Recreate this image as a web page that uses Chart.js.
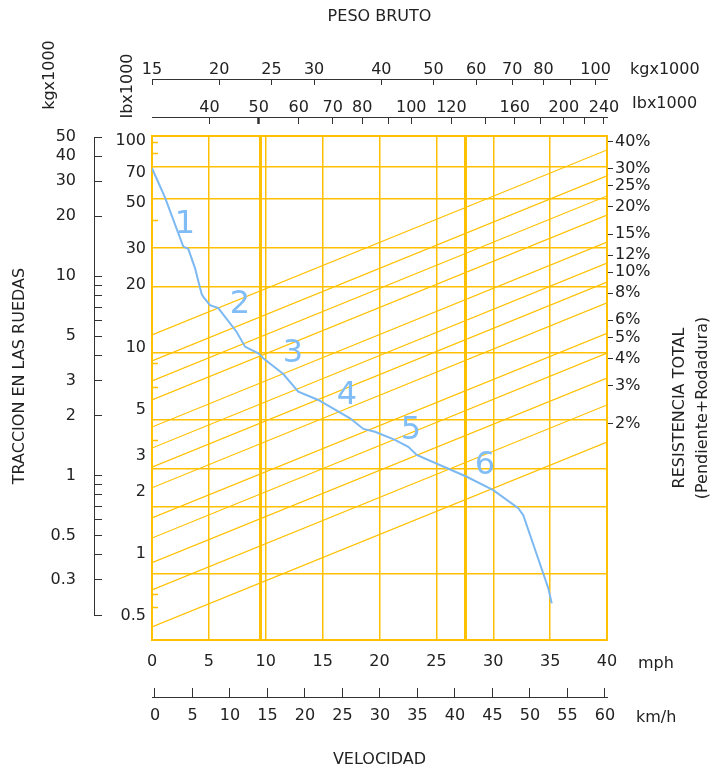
<!DOCTYPE html>
<html><head><meta charset="utf-8">
<script src="https://cdn.jsdelivr.net/npm/chart.js@4.4.1/dist/chart.umd.min.js"></script>
<style>
html,body{margin:0;padding:0;background:#fff;}
#wrap{position:relative;width:712px;height:771px;}
canvas{position:absolute;left:0;top:0;}
</style></head><body>
<div id="wrap"><canvas id="main" width="712" height="771"></canvas><canvas id="side" width="140" height="771"></canvas></div>
<script>
// ---------------- data ----------------
const speedTicksMph = [0,5,10,15,20,25,30,35,40];
const speedTicksKmh = [0,5,10,15,20,25,30,35,40,45,50,55,60];
const weightMarkerMph = [9.5,27.6];
const rimpullLabelsLb = [100,70,50,30,20,10,5,3,2,1,0.5];
const rimpullGridLb = [70,50,30,20,10,5,3,2,1];
const rimpullMinorLb = [90,80,40,9,7,4,0.8,0.7];
const rimpullLabelsKg = [50,40,30,20,10,5,3,2,1,0.5,0.3];
const rimpullMinorKg = [9,8,7,6,4,0.9,0.8,0.7,0.6,0.4,0.2];
const weightTicksKg = [15,20,25,30,40,50,60,70,80,90,100];
const weightLabelsKg = [15,20,25,30,40,50,60,70,80,100];
const weightTicksLb = [40,50,60,70,80,90,100,120,140,160,180,200,220,240];
const weightLabelsLb = [40,50,60,70,80,100,120,160,200,240];
const resistancePct = [40,30,25,20,15,12,10,8,6,5,4,3,2];
const resistanceStartLb = [12.08,9.21,7.48,6.13,4.62,3.71,3.04,2.45,1.79,1.45,1.12,0.843,0.573];
const resistanceEndLb = [83.4,63.6,51.6,42.3,31.9,25.6,21.0,16.9,12.3,10.0,7.71,5.82,3.95];
const curveMph = [0,1.14,2.75,3.19,3.78,4.22,4.37,4.51,5.10,5.83,7.43,8.18,8.47,9.35,9.78,11.54,12.86,14.62,17.41,18.58,19.60,21.36,22.53,23.27,27.67,30.0,32.2,32.64,34.84,35.14];
const curveLb = [68.9,50.8,30.4,29.7,24.3,19.8,18.5,18.0,16.5,16.0,12.5,10.7,10.5,9.98,9.47,8.04,6.69,6.13,5.06,4.53,4.40,4.04,3.76,3.45,2.75,2.39,1.98,1.84,0.858,0.733];
const gearNames = ['1','2','3','4','5','6'];
const gearMph = [2.9,7.74,12.4,17.14,22.77,29.27];
const gearLb = [38.1,16.5,9.91,6.39,4.43,3.08];

// ---------------- style ----------------
const FONT = '"DejaVu Sans", Verdana, sans-serif';
Chart.defaults.font.family = FONT;
Chart.defaults.font.size = 16;
Chart.defaults.color = '#222';
const COL = {grid:'#FFC000', frame:'#FFC000', curve:'#7CB9F3', gear:'#80BDF6', dark:'#333'};
const toTicks = arr => arr.slice().sort((a,b)=>a-b).map(v=>({value:v}));

const textPlugin = {
  id:'texts',
  afterDatasetsDraw(chart){
    const ctx = chart.ctx, sx = chart.scales.x, sy = chart.scales.y;
    ctx.save();
    ctx.font = '32px ' + FONT;
    ctx.fillStyle = COL.gear;
    ctx.textAlign = 'center'; ctx.textBaseline = 'middle';
    gearNames.forEach((g,i)=>{
      ctx.fillText(g, sx.getPixelForValue(gearMph[i]), sy.getPixelForValue(gearLb[i]));
    });
    ctx.restore();
  },
  afterDraw(chart){
    const ctx = chart.ctx;
    ctx.save();
    ctx.font = '16px ' + FONT;
    ctx.fillStyle = '#222';
    ctx.textBaseline = 'middle';
    ctx.textAlign = 'left';
    ctx.fillText('kgx1000', 630, 70);
    ctx.fillText('Ibx1000', 632, 104);
    ctx.fillText('mph', 638, 664);
    ctx.fillText('km/h', 636, 718);
    const rot = (t,x,y)=>{ctx.save();ctx.translate(x,y);ctx.rotate(-Math.PI/2);ctx.textAlign='center';ctx.fillText(t,0,0);ctx.restore();};
    rot('kgx1000', 50, 75);
    rot('Ibx1000', 128, 86);
    rot('RESISTENCIA TOTAL', 680, 408);
    rot('(Pendiente+Rodadura)', 703, 408);
    ctx.restore();
  }
};

const datasets = [{
  data: curveMph.map((x,i)=>({x, y: curveLb[i]})),
  borderColor: COL.curve, borderWidth: 2, pointRadius: 0, tension: 0
}];
resistancePct.forEach((p,i)=>{
  datasets.push({
    label: p + '%',
    data: [{x: speedTicksMph[0], y: resistanceStartLb[i]}, {x: speedTicksMph[speedTicksMph.length-1], y: resistanceEndLb[i]}],
    borderColor: COL.grid, borderWidth: 1.2, pointRadius: 0
  });
});

new Chart(document.getElementById('main'), {
  type: 'line',
  data: {datasets},
  options: {
    responsive: false, animation: false,
    layout: {padding: 0},
    plugins: {legend: {display: false}, tooltip: {enabled: false}},
    scales: {
      x: {
        type: 'linear', position: 'bottom', weight: 0, min: 0, max: 40,
        afterBuildTicks: s => { s.ticks = toTicks(speedTicksMph.concat(weightMarkerMph)); },
        afterFit: s => { s.height = 57; },
        ticks: {autoSkip: false, maxRotation: 0, padding: 12,
          callback: v => speedTicksMph.includes(v) ? String(v) : ''},
        grid: {color: COL.grid, drawTicks: false,
          lineWidth: c => (c.tick && weightMarkerMph.includes(c.tick.value)) ? 3 : 1.5},
        border: {color: COL.frame, width: 2}
      },
      xKm: {
        type: 'linear', position: 'bottom', weight: 1, min: -0.4, max: 60.27,
        afterBuildTicks: s => { s.ticks = toTicks(speedTicksKmh); },
        afterFit: s => { s.height = 74; },
        ticks: {autoSkip: false, maxRotation: 0, padding: 18.4, callback: v => String(v)},
        grid: {drawOnChartArea: false, drawTicks: true, tickLength: -9, tickColor: COL.dark, tickWidth: 1},
        border: {color: COL.dark, width: 1},
        title: {display: true, text: 'VELOCIDAD', padding: {top: 0, bottom: 1.4}}
      },
      xKg: {
        type: 'logarithmic', position: 'top', weight: 2, min: 15, max: 105,
        afterBuildTicks: s => { s.ticks = toTicks(weightTicksKg); },
        afterFit: s => { s.height = 79; },
        ticks: {autoSkip: false, maxRotation: 0, padding: 5.4,
          callback: v => weightLabelsKg.includes(v) ? String(v) : ''},
        grid: {drawOnChartArea: false, drawTicks: true, tickLength: -6, tickColor: COL.dark, tickWidth: 1},
        border: {color: COL.dark, width: 1},
        title: {display: true, text: 'PESO BRUTO', padding: {top: 7.4, bottom: 0}}
      },
      xLb: {
        type: 'logarithmic', position: 'top', weight: 1, min: 30.8, max: 243.3,
        afterBuildTicks: s => { s.ticks = toTicks(weightTicksLb); },
        afterFit: s => { s.height = 38; },
        ticks: {autoSkip: false, maxRotation: 0, padding: 6.4,
          callback: v => weightLabelsLb.includes(v) ? String(v) : ''},
        grid: {drawOnChartArea: false, drawTicks: true, tickLength: -7, tickColor: COL.dark,
          tickWidth: c => (c.tick && c.tick.value === 50) ? 2.5 : 1},
        border: {color: COL.dark, width: 1}
      },
      xGap: {
        type: 'linear', position: 'top', weight: 0, min: 0, max: 40,
        afterBuildTicks: s => { s.ticks = []; },
        afterFit: s => { s.height = 19; },
        ticks: {display: false},
        grid: {display: true, drawOnChartArea: false, drawTicks: false, tickLength: 0},
        border: {color: COL.frame, width: 2}
      },
      y: {
        type: 'logarithmic', position: 'left', weight: 0, min: 0.5, max: 96.5,
        afterBuildTicks: s => { s.ticks = toTicks(rimpullGridLb); },
        afterFit: s => { s.width = 0; },
        ticks: {display: false},
        grid: {color: COL.grid, lineWidth: 1.5, drawTicks: false, tickLength: 0},
        border: {color: COL.frame, width: 2}
      },
      yMinor: {
        type: 'logarithmic', position: 'left', weight: 1, min: 0.5, max: 96.5,
        afterBuildTicks: s => { s.ticks = toTicks(rimpullMinorLb); },
        afterFit: s => { s.width = 0; },
        ticks: {display: false},
        grid: {drawOnChartArea: false, drawTicks: true, tickLength: -6, tickColor: COL.grid, tickWidth: 1.5},
        border: {display: false}
      },
      yL: {
        type: 'logarithmic', position: 'left', weight: 2, min: 0.3825, max: 105.7,
        afterBuildTicks: s => { s.ticks = toTicks(rimpullLabelsLb); },
        afterFit: s => { s.width = 152; },
        ticks: {autoSkip: false, padding: 6, callback: v => String(v)},
        grid: {display: false, drawTicks: false, tickLength: 0},
        border: {display: false}
      },
      yR: {
        type: 'logarithmic', position: 'right', weight: 0, min: 0.201, max: 42.5,
        afterBuildTicks: s => { s.ticks = toTicks(resistancePct); },
        afterFit: s => { s.width = 105; },
        ticks: {autoSkip: false, padding: 2, callback: v => v + '%'},
        grid: {drawOnChartArea: false, drawTicks: true, tickLength: 6, tickColor: COL.dark, tickWidth: 1},
        border: {color: COL.frame, width: 2}
      }
    }
  },
  plugins: [textPlugin]
});

new Chart(document.getElementById('side'), {
  type: 'line',
  data: {datasets: []},
  options: {
    responsive: false, animation: false,
    layout: {padding: {left: 0, right: 30, top: 137, bottom: 156}},
    plugins: {legend: {display: false}, tooltip: {enabled: false}},
    scales: {
      x: {type: 'linear', display: false, min: 0, max: 1},
      y: {
        type: 'logarithmic', position: 'left', display: true, min: 0.2, max: 50,
        afterBuildTicks: s => { s.ticks = toTicks(rimpullLabelsKg.concat(rimpullMinorKg)); },
        afterFit: s => { s.width = 94; },
        ticks: {autoSkip: false, padding: 26, callback: v => rimpullLabelsKg.includes(v) ? String(v) : ''},
        grid: {drawOnChartArea: false, drawTicks: true, tickLength: -8, tickColor: COL.dark, tickWidth: 1},
        border: {color: COL.dark, width: 1},
        title: {display: true, text: 'TRACCION EN LAS RUEDAS', padding: {top: 10.4, bottom: 0}}
      }
    }
  }
});
</script>
</body></html>
